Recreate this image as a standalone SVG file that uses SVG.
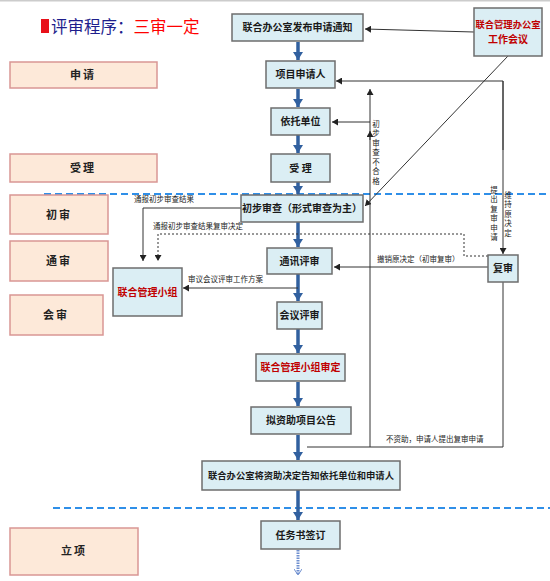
<svg xmlns="http://www.w3.org/2000/svg" width="550" height="581" viewBox="0 0 550 581">
<defs>
<style>
.stage rect{fill:#fde9d9;stroke:#d99694;stroke-width:1.5}
.stage text{font-family:"Noto Sans CJK SC",sans-serif;font-size:11px;font-weight:bold;fill:#222;text-anchor:middle;letter-spacing:2px}
.node rect{fill:#dbeef4;stroke:#6d6d6d;stroke-width:1.5}
.node text{font-family:"Noto Sans CJK SC",sans-serif;font-size:10px;font-weight:bold;fill:#1a1a1a;text-anchor:middle}
.node text.red{fill:#c00000}
.node text.sm{font-size:9.3px}
.thin{fill:none;stroke:#333;stroke-width:1}
.dot{fill:none;stroke:#333;stroke-width:1;stroke-dasharray:2 2}
.blue{stroke:#31609f;stroke-width:3.5}
.sep{stroke:#2f8fe8;stroke-width:2;stroke-dasharray:7 4}
.lbl{font-family:"Noto Sans CJK SC",sans-serif;font-size:7.5px;fill:#222}
.vlbl{font-family:"Noto Sans CJK SC",sans-serif;font-size:7.5px;fill:#222;writing-mode:vertical-rl;letter-spacing:2px}
</style>
<marker id="ah" markerUnits="userSpaceOnUse" markerWidth="7" markerHeight="7" refX="6" refY="3.5" orient="auto"><path d="M0,0 L6,3.5 L0,7 z" fill="#222"/></marker>
<marker id="bh" markerUnits="userSpaceOnUse" markerWidth="11" markerHeight="10" refX="8" refY="5" orient="auto"><path d="M0,0 L8,5 L0,10 z" fill="#31609f"/></marker>
<marker id="lh" markerUnits="userSpaceOnUse" markerWidth="9" markerHeight="8" refX="6" refY="4" orient="auto"><path d="M0,0 L6,4 L0,8" fill="none" stroke="#6f8fcf" stroke-width="1"/></marker>
</defs>
<rect x="0" y="0" width="550" height="581" fill="#fff"/>
<line x1="0" y1="0.5" x2="550" y2="0.5" stroke="#ccc" stroke-width="2"/>

<g id="title">
<rect x="41" y="19" width="8" height="14" fill="#e8101a"/>
<text x="51" y="33" font-family="Noto Sans CJK SC,sans-serif" font-size="16.5px" fill="#1e1e8c">评审程序：<tspan fill="#ff0000">三审一定</tspan></text>
</g>

<g id="separators">
<line class="sep" x1="44" y1="194" x2="550" y2="194"/>
<line class="sep" x1="53" y1="508" x2="550" y2="508"/>
</g>

<g id="stage-apply" class="stage"><rect x="10" y="62" width="147" height="26"/><text x="83" y="79">申请</text></g>
<g id="stage-accept" class="stage"><rect x="10" y="154" width="147" height="28"/><text x="83" y="172">受理</text></g>
<g id="stage-initial" class="stage"><rect x="10" y="195" width="98" height="39"/><text x="59" y="219">初审</text></g>
<g id="stage-comm" class="stage"><rect x="10" y="241" width="98" height="40"/><text x="59" y="265">通审</text></g>
<g id="stage-meeting" class="stage"><rect x="10" y="295" width="93" height="40"/><text x="56" y="319">会审</text></g>
<g id="stage-project" class="stage"><rect x="10" y="528" width="128" height="47"/><text x="74" y="555">立项</text></g>

<g id="connectors">
<line class="blue" x1="298" y1="42" x2="298" y2="60" marker-end="url(#bh)"/>
<line class="blue" x1="298" y1="89" x2="298" y2="107" marker-end="url(#bh)"/>
<line class="blue" x1="298" y1="135" x2="298" y2="153" marker-end="url(#bh)"/>
<line class="blue" x1="298" y1="182" x2="298" y2="194" marker-end="url(#bh)"/>
<line class="blue" x1="298" y1="222" x2="298" y2="247" marker-end="url(#bh)"/>
<line class="blue" x1="298" y1="274" x2="298" y2="301" marker-end="url(#bh)"/>
<line class="blue" x1="298" y1="329" x2="298" y2="353" marker-end="url(#bh)"/>
<line class="blue" x1="298" y1="382" x2="298" y2="406" marker-end="url(#bh)"/>
<line class="blue" x1="298" y1="435" x2="298" y2="460" marker-end="url(#bh)"/>
<line class="blue" x1="298" y1="490" x2="298" y2="520" marker-end="url(#bh)"/>
<line x1="298" y1="550" x2="298" y2="575" stroke="#6f8fcf" stroke-width="3" stroke-dasharray="1.5 1" marker-end="url(#lh)"/>

<line class="thin" x1="474" y1="32" x2="365" y2="29" marker-end="url(#ah)"/>
<line class="thin" x1="508" y1="56" x2="365" y2="206" marker-end="url(#ah)"/>
<path class="thin" d="M503,150 L503,81 L336,81" marker-end="url(#ah)"/>
<path class="thin" d="M503,81 L503,254" marker-end="url(#ah)"/>
<path class="thin" d="M370,447 L370,89" marker-end="url(#ah)"/>
<path class="thin" d="M370,140 L370,131" marker-end="url(#ah)"/>
<line class="thin" x1="370" y1="122" x2="332" y2="122" marker-end="url(#ah)"/>
<path class="thin" d="M307,447 L503,447 L503,282"/>
<line class="thin" x1="488" y1="267" x2="334" y2="267" marker-end="url(#ah)"/>
<path class="dot" d="M488,256 L464,256 L464,234 L158,234 L158,261" marker-end="url(#ah)"/>
<path class="thin" d="M241,208 L143,208 L143,261" marker-end="url(#ah)"/>
<line class="thin" x1="298" y1="288" x2="183" y2="288" marker-end="url(#ah)"/>

<text class="lbl" x="134" y="202">通报初步审查结果</text>
<text class="lbl" x="153" y="229">通报初步审查结果复审决定</text>
<text class="lbl" x="188" y="282">审议会议评审工作方案</text>
<text class="lbl" x="377" y="262">撤销原决定（初审复审）</text>
<text class="lbl" x="386" y="442">不资助，申请人提出复审申请</text>
<text class="vlbl" x="376" y="120">初步审查不合格</text>
<text class="vlbl" x="494" y="186">提出复审申请</text>
<text class="vlbl" x="508" y="191">维持原决定</text>
</g>

<g id="n-notice" class="node"><rect x="232" y="14" width="131" height="27"/><text x="297.5" y="31">联合办公室发布申请通知</text></g>
<g id="n-applicant" class="node"><rect x="266" y="61" width="69" height="27"/><text x="300.5" y="78">项目申请人</text></g>
<g id="n-unit" class="node"><rect x="271" y="108" width="59" height="27"/><text x="300.5" y="125">依托单位</text></g>
<g id="n-accept" class="node"><rect x="271" y="154" width="59" height="28"/><text x="300.5" y="172">受 理</text></g>
<g id="n-initial" class="node"><rect x="241" y="195" width="122" height="27"/><text x="302" y="212">初步审查（形式审查为主）</text></g>
<g id="n-comm" class="node"><rect x="267" y="248" width="65" height="26"/><text x="299.5" y="265">通讯评审</text></g>
<g id="n-meeting" class="node"><rect x="277" y="302" width="45" height="27"/><text x="299.5" y="319">会议评审</text></g>
<g id="n-approve" class="node"><rect x="256" y="354" width="89" height="27"/><text class="red" x="300.5" y="371">联合管理小组审定</text></g>
<g id="n-announce" class="node"><rect x="251" y="407" width="100" height="27"/><text x="301" y="424">拟资助项目公告</text></g>
<g id="n-inform" class="node"><rect x="202" y="461" width="198" height="29"/><text class="sm" x="301" y="479">联合办公室将资助决定告知依托单位和申请人</text></g>
<g id="n-contract" class="node"><rect x="261" y="521" width="79" height="28"/><text x="300.5" y="539">任务书签订</text></g>
<g id="n-office-meeting" class="node"><rect x="474" y="8" width="68" height="48"/><text class="red sm" x="508" y="28">联合管理办公室</text><text class="red" x="508" y="43">工作会议</text></g>
<g id="n-review" class="node"><rect x="488" y="255" width="30" height="27"/><text x="503" y="272">复审</text></g>
<g id="n-group" class="node"><rect x="113" y="268" width="69" height="48"/><text class="red" x="147.5" y="296">联合管理小组</text></g>
</svg>
